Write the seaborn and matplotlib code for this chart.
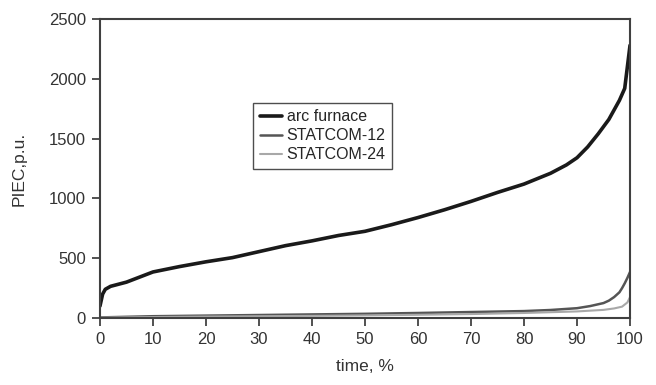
import numpy as np
import pandas as pd
import matplotlib
matplotlib.use("Agg")
import matplotlib.pyplot as plt
import seaborn as sns

# arc furnace curve
arc_t = [0, 0.5, 1, 2, 5, 10, 15, 20, 25, 30, 35, 40, 45, 50, 55, 60, 65, 70,
         75, 80, 85, 88, 90, 92, 94, 96, 97, 98, 99, 99.5, 100]
arc_p = [100, 200, 240, 265, 300, 385, 430, 470, 505, 555, 605, 645, 690, 725,
         780, 840, 905, 975, 1050, 1120, 1210, 1280, 1340, 1430, 1540, 1660,
         1740, 1820, 1920, 2100, 2280]

st12_t = [0, 10, 20, 30, 40, 50, 60, 70, 80, 85, 90, 92.5, 95, 96, 97, 98, 98.5, 99, 99.5, 100]
st12_p = [5, 15, 20, 25, 30, 35, 42, 50, 58, 67, 82, 100, 125, 145, 175, 215, 250, 290, 335, 385]

st24_t = [0, 10, 20, 30, 40, 50, 60, 70, 80, 90, 95, 97, 98.5, 99.5, 100]
st24_p = [3, 8, 12, 15, 18, 22, 27, 33, 42, 55, 68, 80, 95, 130, 175]

sns.set_style("ticks")
plt.rcParams['font.family'] = ['Liberation Sans', 'DejaVu Sans']

fig = plt.figure(figsize=(6.56, 3.85), dpi=100)
ax = fig.add_axes([0.1524, 0.174, 0.808, 0.7766])

sns.lineplot(x=arc_t, y=arc_p, ax=ax, color="#1a1a1a", linewidth=2.6, label="arc furnace")
sns.lineplot(x=st12_t, y=st12_p, ax=ax, color="#555555", linewidth=1.8, label="STATCOM-12")
sns.lineplot(x=st24_t, y=st24_p, ax=ax, color="#a8a8a8", linewidth=1.5, label="STATCOM-24")

ax.set_xlim(0, 100)
ax.set_ylim(0, 2500)
ax.set_xticks(range(0, 101, 10))
ax.set_yticks(range(0, 2501, 500))
ax.tick_params(direction="out", length=6, width=1.2, colors="#333333", labelsize=12, pad=4)
for s in ax.spines.values():
    s.set_visible(True)
    s.set_color("#404040")
    s.set_linewidth(1.5)

ax.set_xlabel("time, %", fontsize=12.5, color="#333333", labelpad=9)
ax.set_ylabel("PIEC,p.u.", fontsize=12.5, color="#333333", labelpad=16)

leg = ax.legend(loc="upper left", bbox_to_anchor=(0.289, 0.72), fontsize=11.5,
                frameon=True, fancybox=False, handlelength=1.4, handletextpad=0.3,
                borderpad=0.4, labelspacing=0.25, borderaxespad=0)
leg.get_frame().set_edgecolor("#222222")
leg.get_frame().set_linewidth(1.0)

fig.savefig("out.png", dpi=100)
